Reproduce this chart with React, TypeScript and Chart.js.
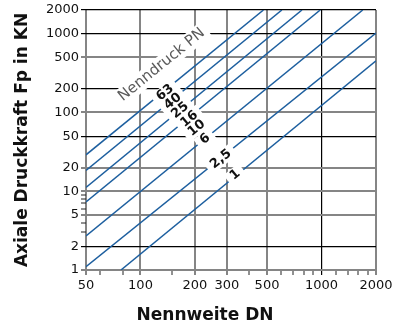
import React, { useEffect, useRef } from "react";
import { Chart, registerables } from "chart.js";

Chart.register(...registerables);

// Axis ticks
const xMajorTicks = [50, 100, 200, 300, 500, 1000, 2000];
const xMinorTicks = [60, 80, 150, 400, 600, 700, 800, 900, 1200, 1400, 1600, 1800];
const yMajorTicks = [1, 2, 5, 10, 20, 50, 100, 200, 500, 1000, 2000];
const yMinorTicks = [3, 4, 6, 7, 8, 9];
const xDarkGrid = [1000];
const yDarkGrid = [2, 50, 200, 1000, 2000];

// Pressure lines (start and end points)
const seriesNames = ["PN 63", "PN 40", "PN 25", "PN 16", "PN 6", "PN 2,5", "PN 1"];
const startDN = [50, 50, 50, 50, 50, 50, 78];
const startF = [29, 18.4, 11.2, 7.3, 2.7, 1.1, 1];
const endDN = [478, 604, 780, 984, 1690, 2000, 2000];
const endF = [2000, 2000, 2000, 2000, 2000, 1018, 453];

// In-plot labels
const pnLabels = ["63", "40", "25", "16", "10", "6", "2,5", "1"];
const labelDN = [136.8, 150.9, 165.5, 186.1, 204.5, 227.6, 278, 333.6];
const labelF = [179, 138, 106, 82.4, 63.4, 46, 25.6, 16.2];
const groupLabel = "Nenndruck PN";
const groupLabelDN = 131;
const groupLabelF = 403;

const xTitle = "Nennweite DN";
const yTitle = "Axiale Druckkraft Fp in KN";

const FONT = "'DejaVu Sans', sans-serif";
const BLUE = "#1d5f9f";
const GRAY = "#858585";
const DARK = "#111111";

const labelPlugin = {
  id: "pnLabels",
  afterDatasetsDraw(chart: any) {
    const { ctx } = chart;
    const xs = chart.scales.x;
    const ys = chart.scales.y;
    const x1 = xs.getPixelForValue(startDN[0]);
    const y1 = ys.getPixelForValue(startF[0]);
    const x2 = xs.getPixelForValue(endDN[0]);
    const y2 = ys.getPixelForValue(endF[0]);
    const angle = Math.atan2(y2 - y1, x2 - x1);
    const items = [
      { text: groupLabel, dn: groupLabelDN, f: groupLabelF, font: `15px ${FONT}`, color: "#5a5a5a", h: 18, pad: 4 },
      ...pnLabels.map((t, i) => ({ text: t, dn: labelDN[i], f: labelF[i], font: `bold 13px ${FONT}`, color: DARK, h: 14, pad: 5 })),
    ];
    // white boxes first
    for (const it of items) {
      const px = xs.getPixelForValue(it.dn);
      const py = ys.getPixelForValue(it.f);
      ctx.save();
      ctx.translate(px, py);
      ctx.rotate(angle);
      ctx.font = it.font;
      const w = ctx.measureText(it.text).width;
      ctx.fillStyle = "#ffffff";
      ctx.fillRect(-w / 2 - it.pad, -it.h / 2, w + it.pad * 2, it.h);
      ctx.restore();
    }
    // then texts
    for (const it of items) {
      const px = xs.getPixelForValue(it.dn);
      const py = ys.getPixelForValue(it.f);
      ctx.save();
      ctx.translate(px, py);
      ctx.rotate(angle);
      ctx.font = it.font;
      ctx.fillStyle = it.color;
      ctx.textAlign = "center";
      ctx.textBaseline = "middle";
      ctx.fillText(it.text, 0, 0);
      ctx.restore();
    }
  },
  afterDraw(chart: any) {
    const { ctx } = chart;
    ctx.save();
    ctx.font = `bold 17px ${FONT}`;
    ctx.fillStyle = DARK;
    ctx.textAlign = "center";
    ctx.textBaseline = "alphabetic";
    ctx.fillText(xTitle, chart.width / 2 + 7, chart.height - 2);
    ctx.restore();
  },
};

export default function App() {
  const canvasRef = useRef<HTMLCanvasElement | null>(null);

  useEffect(() => {
    document.body.style.margin = "0";
    const canvas = canvasRef.current;
    if (!canvas) return;

    const datasets = seriesNames.map((name, i) => ({
      label: name,
      data: [
        { x: startDN[i], y: startF[i] },
        { x: endDN[i], y: endF[i] },
      ],
      showLine: true,
      borderColor: BLUE,
      backgroundColor: BLUE,
      borderWidth: 1.5,
      pointRadius: 0,
      fill: false,
    }));

    const xAll = [...xMajorTicks, ...xMinorTicks].sort((a, b) => a - b);
    const yAll = [...yMajorTicks, ...yMinorTicks].sort((a, b) => a - b);

    const chart = new Chart(canvas, {
      type: "scatter",
      data: { datasets },
      plugins: [labelPlugin],
      options: {
        animation: false,
        responsive: false,
        devicePixelRatio: 1,
        layout: { padding: { top: 10, right: 20, left: 0, bottom: 0 } },
        plugins: { legend: { display: false }, tooltip: { enabled: false } },
        scales: {
          x: {
            type: "logarithmic",
            min: 50,
            max: 2000,
            afterBuildTicks: (s: any) => {
              s.ticks = xAll.map((v) => ({ value: v }));
            },
            afterFit: (s: any) => {
              s.height = 52;
            },
            border: { display: false },
            grid: {
              color: (c: any) => {
                const v = c.tick?.value;
                if (xMinorTicks.includes(v)) return "rgba(0,0,0,0)";
                return xDarkGrid.includes(v) ? "#000000" : GRAY;
              },
              lineWidth: (c: any) => (xDarkGrid.includes(c.tick?.value) ? 1.2 : 2),
              tickColor: (c: any) => {
                const v = c.tick?.value;
                if (xMinorTicks.includes(v)) return "#222222";
                return xDarkGrid.includes(v) ? "#000000" : GRAY;
              },
              tickWidth: (c: any) => (xMinorTicks.includes(c.tick?.value) ? 1 : xDarkGrid.includes(c.tick?.value) ? 1.2 : 2),
              tickLength: 5,
            },
            ticks: {
              autoSkip: false,
              maxRotation: 0,
              minRotation: 0,
              padding: 3,
              color: DARK,
              font: { family: FONT, size: 13 },
              callback: (v: any) => (xMajorTicks.includes(Number(v)) ? String(v) : ""),
            },
          },
          y: {
            type: "logarithmic",
            min: 1,
            max: 2000,
            afterBuildTicks: (s: any) => {
              s.ticks = yAll.map((v) => ({ value: v }));
            },
            afterFit: (s: any) => {
              s.width = 86;
            },
            border: { display: false },
            grid: {
              color: (c: any) => {
                const v = c.tick?.value;
                if (yMinorTicks.includes(v)) return "rgba(0,0,0,0)";
                return yDarkGrid.includes(v) ? "#000000" : GRAY;
              },
              lineWidth: (c: any) => (yDarkGrid.includes(c.tick?.value) ? 1.2 : 2),
              tickColor: (c: any) => {
                const v = c.tick?.value;
                if (yMinorTicks.includes(v)) return "#222222";
                return yDarkGrid.includes(v) ? "#000000" : GRAY;
              },
              tickWidth: (c: any) => (yMinorTicks.includes(c.tick?.value) ? 1 : yDarkGrid.includes(c.tick?.value) ? 1.2 : 2),
              tickLength: 5,
            },
            ticks: {
              autoSkip: false,
              padding: 2,
              color: DARK,
              font: { family: FONT, size: 13 },
              callback: (v: any) => (yMajorTicks.includes(Number(v)) ? String(v) : ""),
            },
            title: {
              display: true,
              text: yTitle,
              color: DARK,
              font: { family: FONT, size: 17, weight: "bold" },
              padding: { top: 12, bottom: 0 },
            },
          },
        },
      },
    } as any);

    return () => chart.destroy();
  }, []);

  return (
    <div style={{ width: 396, height: 322 }}>
      <canvas ref={canvasRef} width={396} height={322} style={{ display: "block" }} />
    </div>
  );
}
